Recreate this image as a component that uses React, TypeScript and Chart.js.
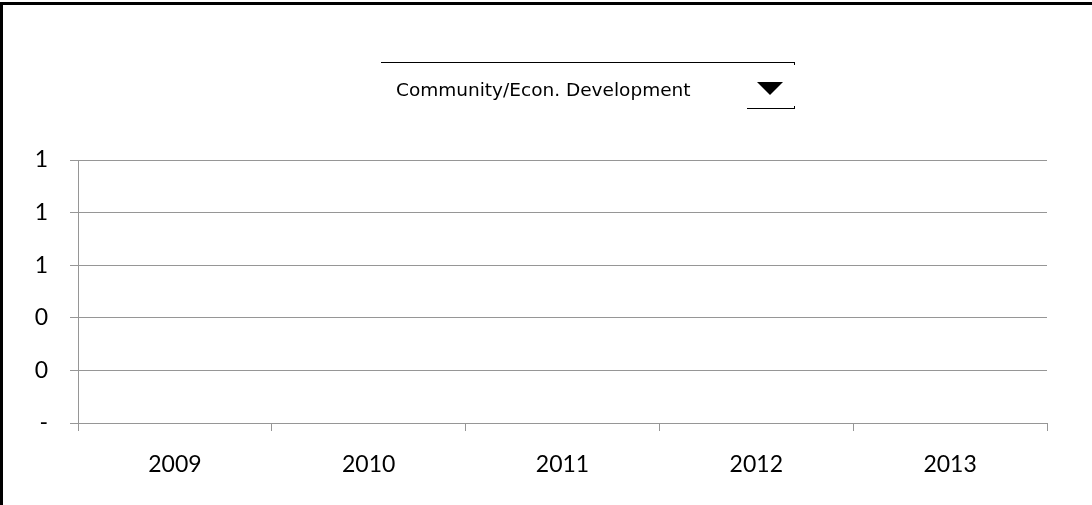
import React, { useEffect, useRef } from "react";
import { Chart, registerables } from "chart.js";

Chart.register(...registerables);

const categories = ["2009", "2010", "2011", "2012", "2013"];
const seriesValues = [0, 0, 0, 0, 0];
const yTickLabels = ["-", "0", "0", "1", "1", "1"];
const yMin = 0;
const yMax = 1;
const yStep = 0.2;
const dropdownLabel = "Community/Econ. Development";

const GRID = "#969696";

export default function App() {
  const ref = useRef<HTMLCanvasElement | null>(null);

  useEffect(() => {
    document.body.style.margin = "0";
    const canvas = ref.current;
    if (!canvas) return;
    const chart = new Chart(canvas, {
      type: "bar",
      data: {
        labels: categories,
        datasets: [
          {
            label: dropdownLabel,
            data: seriesValues,
            backgroundColor: "#4f81bd",
            borderWidth: 0,
          },
        ],
      },
      options: {
        responsive: false,
        animation: false,
        devicePixelRatio: 1,
        layout: { padding: { left: 0, right: 45, top: 160, bottom: 0 } },
        plugins: {
          legend: { display: false },
          tooltip: { enabled: false },
          title: { display: false },
        },
        scales: {
          x: {
            offset: true,
            grid: {
              offset: true,
              drawOnChartArea: false,
              drawTicks: true,
              tickLength: 8,
              color: GRID,
            },
            border: { display: true, color: GRID },
            ticks: {
              color: "#000",
              padding: 20,
              maxRotation: 0,
              font: { family: "Lato", size: 23 },
            },
            afterFit: (scale: any) => {
              scale.height = 82;
            },
          },
          y: {
            min: yMin,
            max: yMax,
            grid: { color: GRID, tickLength: 8, drawTicks: true },
            border: { display: true, color: GRID },
            ticks: {
              stepSize: yStep,
              padding: 22,
              color: "#000",
              font: { family: "Lato", size: 23 },
              callback: (_v: any, i: number) => yTickLabels[i],
            },
            afterFit: (scale: any) => {
              scale.width = 78;
            },
          },
        },
      },
    });
    return () => chart.destroy();
  }, []);

  return (
    <div
      style={{
        position: "absolute",
        left: 0,
        top: 0,
        width: 1092,
        height: 505,
        background: "#fff",
        overflow: "hidden",
      }}
    >
      <canvas ref={ref} width={1092} height={505} style={{ position: "absolute", left: 0, top: 0 }} />
      {/* frame */}
      <div style={{ position: "absolute", left: 0, top: 2, width: 1092, height: 3, background: "#000" }} />
      <div style={{ position: "absolute", left: 0, top: 2, width: 3, height: 503, background: "#000" }} />
      {/* dropdown */}
      <div style={{ position: "absolute", left: 381, top: 62, width: 414, height: 1, background: "#000" }} />
      <div style={{ position: "absolute", left: 794, top: 62, width: 1, height: 3, background: "#000" }} />
      <div style={{ position: "absolute", left: 747, top: 108, width: 48, height: 1, background: "#000" }} />
      <div style={{ position: "absolute", left: 794, top: 106, width: 1, height: 3, background: "#000" }} />
      <div
        style={{
          position: "absolute",
          left: 396,
          top: 81,
          fontFamily: "'DejaVu Sans'",
          fontSize: 18.5,
          lineHeight: "18px",
          color: "#000",
          whiteSpace: "nowrap",
        }}
      >
        {dropdownLabel}
      </div>
      <div
        style={{
          position: "absolute",
          left: 757,
          top: 82,
          width: 0,
          height: 0,
          borderLeft: "13.5px solid transparent",
          borderRight: "13.5px solid transparent",
          borderTop: "13px solid #000",
        }}
      />
    </div>
  );
}
